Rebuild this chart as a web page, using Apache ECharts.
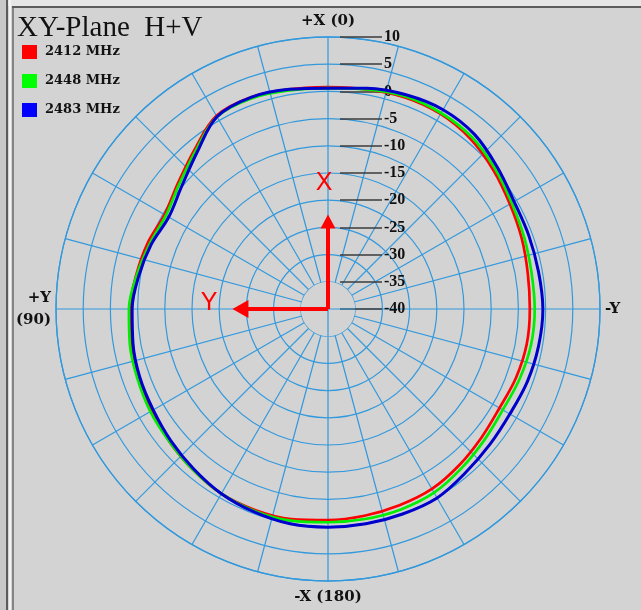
<!DOCTYPE html>
<html>
<head>
<meta charset="utf-8">
<script src="https://cdn.jsdelivr.net/npm/echarts@6/dist/echarts.min.js"></script>
<style>
  html, body { margin: 0; padding: 0; background: #d3d3d3; }
  #chart { width: 641px; height: 610px; }
</style>
</head>
<body>
<div id="chart"></div>
<script>
// Azimuth cut (XY plane), combined H+V gain in dBi, sampled every 10 degrees.
// Angle 0 = +X (top), 90 = +Y (left), 180 = -X (bottom), 270 = -Y (right).
const angles = [0, 10, 20, 30, 40, 50, 60, 70, 80, 90, 100, 110, 120, 130, 140, 150, 160, 170,
  180, 190, 200, 210, 220, 230, 240, 250, 260, 270, 280, 290, 300, 310, 320, 330, 340, 350, 360];

const gain2412 = [0.8, 1.0, 1.4, 1.0, -1.8, -4.0, -5.3, -4.7, -4.2, -3.6, -3.2, -2.9, -2.5, -2.0, -1.4, -0.8, -0.7, -0.8,
  -1.2, -1.4, -1.6, -1.8, -2.5, -3.2, -3.6, -3.2, -2.9, -2.9, -2.7, -2.1, -1.4, -0.3, 0.8, 1.4, 1.4, 1.0, 0.8];
const gain2448 = [0.6, 0.8, 1.2, 0.8, -2.1, -4.3, -5.6, -5.1, -4.3, -3.4, -3.0, -2.7, -2.3, -2.0, -1.4, -0.8, -0.5, -0.5,
  -0.8, -0.8, -0.8, -1.0, -1.8, -2.5, -2.9, -2.5, -2.1, -2.0, -2.0, -1.6, -1.0, 0.1, 1.2, 1.6, 1.6, 1.0, 0.6];
const gain2483 = [0.6, 1.0, 1.4, 0.8, -2.5, -4.9, -6.2, -5.4, -4.7, -4.0, -3.6, -3.2, -2.9, -2.3, -1.6, -0.8, -0.3, 0.1,
  0.1, 0.1, 0.1, 0.1, -0.7, -1.2, -1.4, -1.0, -0.7, -0.5, -0.7, -0.7, -0.5, 0.6, 1.9, 2.3, 1.9, 1.2, 0.6];

const frequencies = ['2412 MHz', '2448 MHz', '2483 MHz'];
const traceColors = ['#ff0000', '#00ee00', '#0000cc'];
const legendColors = ['#ff0000', '#00ff00', '#0000ff'];

// Radial scale (dB) and direction labels around the rim
const gainMin = -40, gainMax = 10, gainStep = 5;
const directionAngles = [0, 90, 180, 270];
const directionLabels = ['+X (0)', '+Y\n(90)', '-X (180)', '-Y'];

// Axis-orientation arrows drawn from the origin
const arrowTip = -23.9;
const arrowAngles = [0, 90];
const arrowNames = ['X', 'Y'];

const gridBlue = '#3399dd';
const panel = '#d3d3d3';
const serif = '"Liberation Serif", "DejaVu Serif", serif';
const wideSerif = '"DejaVu Serif", "Liberation Serif", serif';

const traces = [gain2412, gain2448, gain2483].map((g, i) => ({
  name: frequencies[i],
  type: 'line',
  coordinateSystem: 'polar',
  data: angles.map((a, k) => [g[k], a]),
  smooth: 0.35,
  showSymbol: false,
  symbol: 'none',
  lineStyle: { color: traceColors[i], width: i === 2 ? 3 : 2.7 },
  itemStyle: { color: legendColors[i] },
  z: 3 + i,
  silent: true
}));

const arrows = arrowAngles.map((a, i) => ({
  name: 'arrow-' + arrowNames[i],
  type: 'line',
  coordinateSystem: 'polar',
  silent: true,
  z: 6,
  lineStyle: { color: '#ff0000', width: 4 },
  data: [
    { value: [gainMin, a], symbol: 'none' },
    {
      value: [arrowTip, a],
      symbol: 'triangle',
      symbolSize: i === 0 ? [15, 14] : [18, 16],
      symbolRotate: i === 0 ? 0 : 90,
      itemStyle: { color: '#ff0000' },
      label: {
        show: true,
        formatter: arrowNames[i],
        position: i === 0 ? 'top' : 'left',
        distance: i === 0 ? 19 : 15,
        offset: i === 0 ? [-4, 0] : [0, -6],
        color: '#ff0000',
        fontFamily: '"Liberation Sans", Arial, sans-serif',
        fontSize: 25
      }
    }
  ]
}));

// Short cross through the origin inside the innermost ring
const originCross = {
  name: 'origin',
  type: 'line',
  coordinateSystem: 'polar',
  silent: true,
  symbol: 'none',
  z: 1,
  connectNulls: false,
  lineStyle: { color: gridBlue, width: 1.2 },
  data: [[gainMin + gainStep, 0], [gainMin, 0], [gainMin + gainStep, 180], '-',
         [gainMin + gainStep, 90], [gainMin, 90], [gainMin + gainStep, 270]]
};

const chart = echarts.init(document.getElementById('chart'), null, { renderer: 'canvas' });
chart.setOption({
  animation: false,
  backgroundColor: panel,
  title: {
    text: 'XY-Plane  H+V',
    left: 12,
    top: 9,
    textStyle: { fontFamily: serif, fontWeight: 'normal', fontSize: 29, color: '#111' }
  },
  legend: {
    data: frequencies,
    orient: 'vertical',
    left: 17,
    top: 40,
    icon: 'rect',
    itemWidth: 15,
    itemHeight: 14,
    itemGap: 15,
    selectedMode: false,
    textStyle: { fontFamily: wideSerif, fontWeight: 'bold', fontSize: 13, color: '#111', padding: [0, 0, 0, 3] }
  },
  polar: { center: [328, 309], radius: [0, 272] },
  angleAxis: {
    type: 'value',
    min: 0,
    max: 360,
    interval: 15,
    startAngle: 90,
    clockwise: false,
    z: 0,
    axisLine: { show: true, lineStyle: { color: gridBlue, width: 1.3 } },
    axisTick: { show: false },
    splitLine: { show: true, lineStyle: { color: gridBlue, width: 1.2 } },
    axisLabel: {
      margin: 5,
      fontFamily: wideSerif,
      fontWeight: 'bold',
      fontSize: 15,
      color: '#111',
      lineHeight: 22,
      formatter: v => {
        const k = directionAngles.indexOf(v);
        return k >= 0 ? directionLabels[k] : '';
      }
    }
  },
  radiusAxis: {
    type: 'value',
    min: gainMin,
    max: gainMax,
    interval: gainStep,
    z: 1,
    axisLine: { show: false },
    axisTick: {
      show: true,
      length: -58,
      lineStyle: { color: '#3c3c3c', width: 1.5, type: [0, 12, 42, 400], cap: 'butt' }
    },
    splitLine: { show: true, lineStyle: { color: gridBlue, width: 1.2 } },
    splitArea: {
      show: true,
      areaStyle: { color: [panel, 'rgba(0,0,0,0)', 'rgba(0,0,0,0)', 'rgba(0,0,0,0)', 'rgba(0,0,0,0)',
        'rgba(0,0,0,0)', 'rgba(0,0,0,0)', 'rgba(0,0,0,0)', 'rgba(0,0,0,0)', 'rgba(0,0,0,0)'] }
    },
    axisLabel: {
      margin: -56,
      align: 'left',
      verticalAlign: 'middle',
      fontFamily: serif,
      fontWeight: 'bold',
      fontSize: 16,
      color: '#111'
    }
  },
  graphic: [
    { type: 'rect', shape: { x: 0, y: 0, width: 641, height: 6 }, style: { fill: '#e6e6e6' }, silent: true },
    { type: 'rect', shape: { x: 0, y: 0, width: 6, height: 610 }, style: { fill: '#c9c9c9' }, silent: true },
    { type: 'line', shape: { x1: 7, y1: 0, x2: 7, y2: 610 }, style: { stroke: '#5c5c5c', lineWidth: 2 }, silent: true },
    { type: 'line', shape: { x1: 10, y1: 0, x2: 10, y2: 610 }, style: { stroke: '#f4f4f4', lineWidth: 2 }, silent: true },
    { type: 'line', shape: { x1: 13, y1: 7, x2: 13, y2: 610 }, style: { stroke: '#6a6a6a', lineWidth: 1.5 }, silent: true },
    { type: 'line', shape: { x1: 12, y1: 7, x2: 641, y2: 7 }, style: { stroke: '#5c5c5c', lineWidth: 2 }, silent: true }
  ],
  series: [originCross, ...traces, ...arrows]
});
</script>
</body>
</html>
